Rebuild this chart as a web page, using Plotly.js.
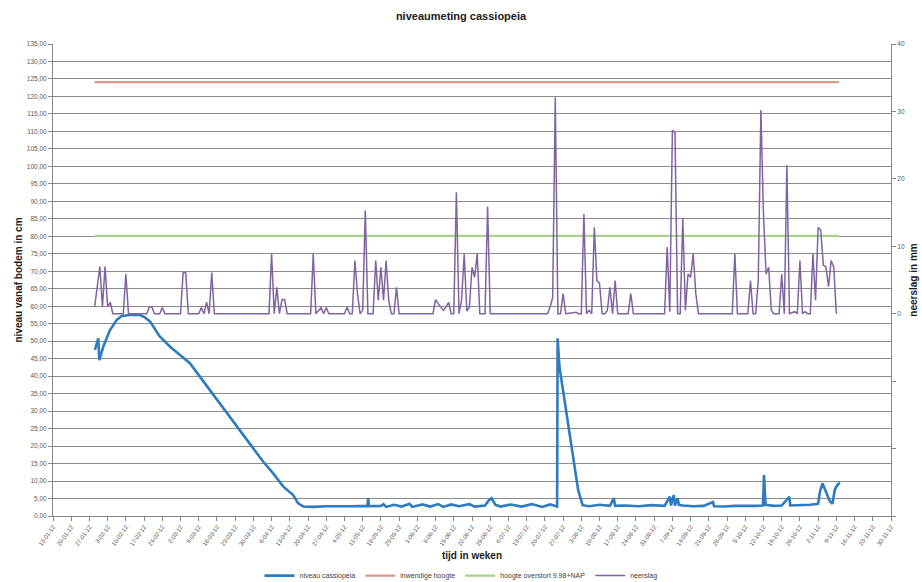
<!DOCTYPE html>
<html><head><meta charset="utf-8">
<script src="https://cdn.plot.ly/plotly-3.0.1.min.js"></script>
<style>html,body{margin:0;padding:0;background:#fff}#chart{width:922px;height:582px}</style>
</head><body><div id="chart"></div>
<script>
// time is given in days since the first weekly tick (2012-01-13)
const startDate = Date.UTC(2012, 0, 13);

const niveauDays = [16.1,17.4,17.8,19.3,21.9,24.5,26.4,29.6,33.4,35.3,37.3,41.1,45,50.1,52.6,56.5,60.3,62.9,66.7,70.6,75.7,80.8,84.6,88.5,92.3,94.2,96.2,
  100,105,110,115,120.8,121.1,121.4,126,127,128,131,134,137,138,142,145,148,150,153,156,160,162,166,167.5,168.5,170,172,176,180,184,188,191,193.7,
  193.9,194.6,198.6,201.8,203.5,206,210,214,215.5,216,220,225,230,235,237,237.5,238.5,239,240,240.5,242,246,250,253.6,254,258,262,266,270,
  272.8,273.2,273.8,277,280,282.9,283.3,287,291,294,294.7,295.7,297.2,298.5,299.5,300.4,301.3,302.3];
const niveauValues = [47.5,50.8,44.6,48.4,53.2,56.1,57.2,57.5,57.5,56.8,55.6,51.3,48.4,45.1,43.7,39.8,36,33.2,29.4,25.5,20.3,15.5,12.2,8.4,6,3.6,2.7,
  2.6,2.8,2.7,2.8,2.9,5.1,2.8,2.9,3.4,2.6,3.2,2.7,3.5,2.6,3.3,2.7,3.4,2.6,3.3,2.8,3.4,2.7,3.0,4.5,5.1,3.2,2.7,3.3,2.7,3.4,2.6,3.3,2.7,
  50.8,42.7,23.6,7.4,3.1,2.8,3.2,2.9,5.1,2.9,3.0,2.8,3.1,2.9,5.5,3,6,3,5,3.2,3.0,2.8,2.9,4,2.8,2.7,2.9,2.8,2.9,
  3.0,11.7,3.2,2.9,3.0,5.5,3.0,3.1,3.2,3.5,7,9.3,6.5,4.2,3.5,7.5,8.7,9.6];

const refDays = [16, 302];
const inwendigeHoogte = [124.1, 124.1];
const overstortHoogte = [80.1, 80.1];

const neerslagDays = [16,18,19,20,21,22,23,27,28,29,36,37,38,39,41,42,43,49,50,51,52,56,57,58,59,60,61,62,
  83,84,85,86,87,88,89,90,99,100,101,103,104,105,106,112,113,114,115,116,117,118,119,120,121,
  123,124,125,126,127,128,129,130,131,132,133,146,147,148,149,150,151,152,153,154,155,156,157,158,159,160,161,162,163,164,
  166,167,168,190,191,192,193,194,195,196,197,201,202,203,204,205,206,207,208,209,210,211,212,213,214,215,216,217,
  221,222,223,235,236,237,238,239,240,241,242,243,244,245,246,247,248,261,262,263,267,268,269,270,271,272,273,274,275,276,277,
  279,280,281,282,283,285,286,287,288,289,290,291,292,293,294,295,296,297,298,299,300,301];
const neerslagValues = [1,7,1,7,1,1.7,0,0,5.9,0,0,1,1,0,0,0.9,0,0,6.1,6.1,0,0,0.9,0,1.7,0,6.1,0,
  0,8.9,0,3.9,0,2.1,2.1,0,0,8.9,0,0.9,0,0.9,0,0,1,0,0,7.9,3,0,0.5,15.3,0,
  0,7.9,2,6.9,2,7.9,2,0,0,3.9,0,0,2.1,1.5,1,0.5,1,1.7,0,0,18,0,2,8.9,0.4,1,6.9,5.4,8.9,0,
  0,15.9,0,0,1,2.4,32.1,0,0,3,0,0.2,0,0,14.8,0,0.5,0,12.8,4.9,4.5,0,0,0.5,3.9,0,4.9,0,
  0,3,0,0,9.9,0.3,27.2,26.9,0,0,14.1,0.5,5.9,5.4,8.9,3,0,0,8.9,0,0,4.9,0,0,5,30.2,14.8,5.9,6.9,0.5,0,
  0,5.9,0,22,0,0.3,0,7.9,0,0.3,0,0,8.9,2,12.8,12.4,7.2,6.9,4,7.9,6.9,0];

const seriesNames = ['niveau cassiopeia', 'inwendige hoogte', 'hoogte overstort 9.98+NAP', 'neerslag'];

function toDate(d) {
  return new Date(startDate + d * 86400000).toISOString().slice(0, 19).replace('T', ' ');
}

const FONT = 'Liberation Sans, Arial, sans-serif';
const traces = [
  {x: niveauDays.map(toDate), y: niveauValues, name: seriesNames[0], type: 'scatter', mode: 'lines',
   line: {color: '#2f7bc0', width: 2.6}},
  {x: refDays.map(toDate), y: inwendigeHoogte, name: seriesNames[1], type: 'scatter', mode: 'lines',
   line: {color: '#d99a8c', width: 2.4}},
  {x: refDays.map(toDate), y: overstortHoogte, name: seriesNames[2], type: 'scatter', mode: 'lines',
   line: {color: '#a9d18e', width: 2.2}},
  {x: neerslagDays.map(toDate), y: neerslagValues, name: seriesNames[3], type: 'scatter', mode: 'lines',
   yaxis: 'y2', line: {color: '#8064a2', width: 1.5}}
];

const layout = {
  width: 922, height: 582,
  margin: {l: 53, r: 31, t: 44, b: 66},
  paper_bgcolor: '#fff', plot_bgcolor: '#fff',
  separators: ',.',
  font: {family: FONT, color: '#404040', size: 7},
  showlegend: true,
  title: {text: '<b>niveaumeting cassiopeia</b>', x: 0.5, xanchor: 'center', y: 0.972, yanchor: 'middle',
          font: {family: FONT, size: 11, color: '#202020'}},
  xaxis: {
    type: 'date', range: [toDate(0), toDate(322)], automargin: false,
    tick0: toDate(0), dtick: 7 * 86400000, tickformat: '%-d-%m-%y', tickangle: -55,
    showgrid: false, zeroline: false, showline: true, linecolor: '#868686', linewidth: 1,
    ticks: 'outside', ticklen: 4, tickcolor: '#868686',
    tickfont: {size: 6, color: '#595959'},
    title: {text: '<b>tijd in weken</b>', standoff: 12, font: {size: 10, color: '#202020'}}
  },
  yaxis: {
    range: [0, 135], dtick: 5, tickformat: '.2f', automargin: false,
    showgrid: true, gridcolor: '#8c8c8c', gridwidth: 1, zeroline: false,
    showline: true, linecolor: '#868686', ticks: 'outside', ticklen: 4, tickcolor: '#868686',
    tickfont: {size: 6.5, color: '#595959'},
    title: {text: '<b>niveau vanaf bodem in cm</b>', standoff: 2, font: {size: 10, color: '#202020'}}
  },
  yaxis2: {
    overlaying: 'y', side: 'right', range: [-30, 40], automargin: false,
    tickvals: [-30, -20, -10, 0, 10, 20, 30, 40], ticktext: ['', '', '', '0', '10', '20', '30', '40'],
    showgrid: false, zeroline: false, showline: true, linecolor: '#868686',
    ticks: 'outside', ticklen: 4, tickcolor: '#868686',
    tickfont: {size: 6.5, color: '#595959'},
    title: {text: '<b>neerslag in mm</b>', standoff: 6, font: {size: 10, color: '#202020'}}
  },
  legend: {orientation: 'h', x: 0.5, xanchor: 'center', xref: 'container', yref: 'container',
           y: 0.011, yanchor: 'middle',
           font: {size: 7, color: '#404040'}, itemwidth: 30, tracegroupgap: 0}
};

Plotly.newPlot('chart', traces, layout, {displayModeBar: false, staticPlot: true});
</script>
</body></html>
